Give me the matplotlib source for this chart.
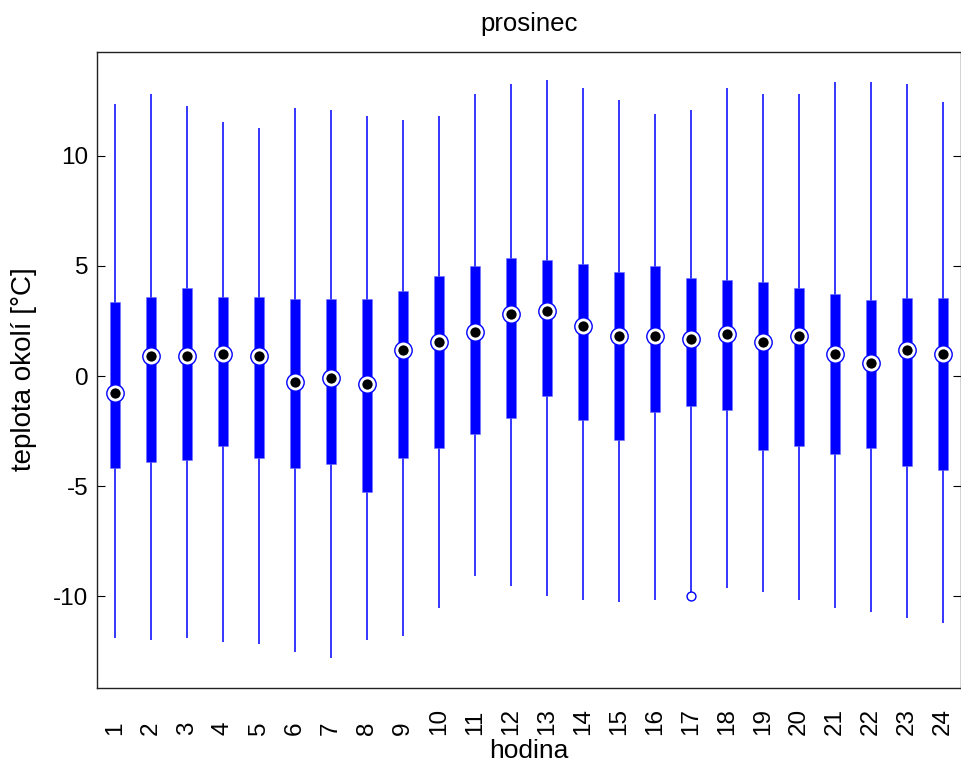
import matplotlib.pyplot as plt
import numpy as np

plt.rcParams["font.family"] = ["Liberation Sans", "DejaVu Sans"]
plt.rcParams["axes.unicode_minus"] = False

# hourly temperature statistics, December
hours = np.arange(1, 25)
whisker_hi = [12.34, 12.79, 12.24, 11.52, 11.25, 12.15, 12.06, 11.79, 11.61, 11.79, 12.79, 13.24,
              13.42, 13.06, 12.52, 11.88, 12.06, 13.06, 12.79, 12.79, 13.33, 13.33, 13.24, 12.43]
q3 = [3.34, 3.60, 3.98, 3.60, 3.60, 3.51, 3.51, 3.51, 3.87, 4.52, 4.97, 5.34,
      5.25, 5.07, 4.70, 4.99, 4.43, 4.34, 4.25, 3.98, 3.72, 3.43, 3.52, 3.52]
median = [-0.76, 0.89, 0.89, 0.98, 0.89, -0.29, -0.10, -0.38, 1.17, 1.53, 1.98, 2.80,
          2.96, 2.25, 1.80, 1.80, 1.69, 1.89, 1.53, 1.80, 0.98, 0.60, 1.17, 0.98]
q1 = [-4.17, -3.89, -3.81, -3.17, -3.72, -4.17, -3.98, -5.26, -3.72, -3.25, -2.63, -1.90,
      -0.89, -2.00, -2.89, -1.63, -1.35, -1.54, -3.36, -3.17, -3.52, -3.25, -4.08, -4.26]
whisker_lo = [-11.88, -11.97, -11.88, -12.06, -12.17, -12.52, -12.78, -11.97, -11.79, -10.52, -9.06, -9.52,
              -9.96, -10.14, -10.26, -10.14, -9.78, -9.61, -9.80, -10.14, -10.52, -10.70, -10.99, -11.22]
outlier_hour = [17]
outlier_val = [-10.0]

fig = plt.figure(figsize=(9.61, 7.62), dpi=100)
ax = fig.add_axes([96.7 / 961, 1 - 687.5 / 762, 864.3 / 961, 636 / 762])

blue = "#0000ff"
ax.vlines(hours, whisker_lo, whisker_hi, color=blue, linewidth=1.1, zorder=2)
ax.bar(hours, np.array(q3) - np.array(q1), bottom=q1, width=0.27, color=blue,
       edgecolor="#6f6fff", linewidth=0.4, zorder=3)
ax.plot(hours, median, "o", ms=12.5, mfc="white", mec=blue, mew=1.0, zorder=4)
ax.plot(hours, median, "o", ms=7.4, mfc="black", mec="black", mew=0, zorder=5)
ax.plot(outlier_hour, outlier_val, "o", ms=6.4, mfc="none", mec=blue, mew=1.0, zorder=4)

ax.set_xlim(0.5, 24.5)
ax.set_ylim(-14.13, 14.72)
ax.set_yticks([-10, -5, 0, 5, 10])
ax.set_xticks([])
ax.tick_params(axis="y", direction="in", length=6, width=0.8, labelsize=17.5,
               right=True, pad=6)
for s in ax.spines.values():
    s.set_linewidth(1.0)
    s.set_color("#222222")

trans = ax.get_xaxis_transform()
for h in hours:
    ax.text(h, -(735 - 687.5) / 636, str(h), rotation=90, ha="center", va="bottom",
            fontsize=17.5, transform=trans)

ax.set_xlabel("hodina", fontsize=19, va="baseline")
ax.xaxis.set_label_coords(0.5, -(758 - 687.5) / 636)
ax.set_ylabel("teplota okolí [°C]", fontsize=20, va="center")
ax.yaxis.set_label_coords(-(96.7 - 24) / 864.3, 0.5)
ax.set_title("prosinec", fontsize=18.5, y=1 + (51.5 - 31.5) / 636, pad=0)

plt.savefig("out.png", dpi=100)
